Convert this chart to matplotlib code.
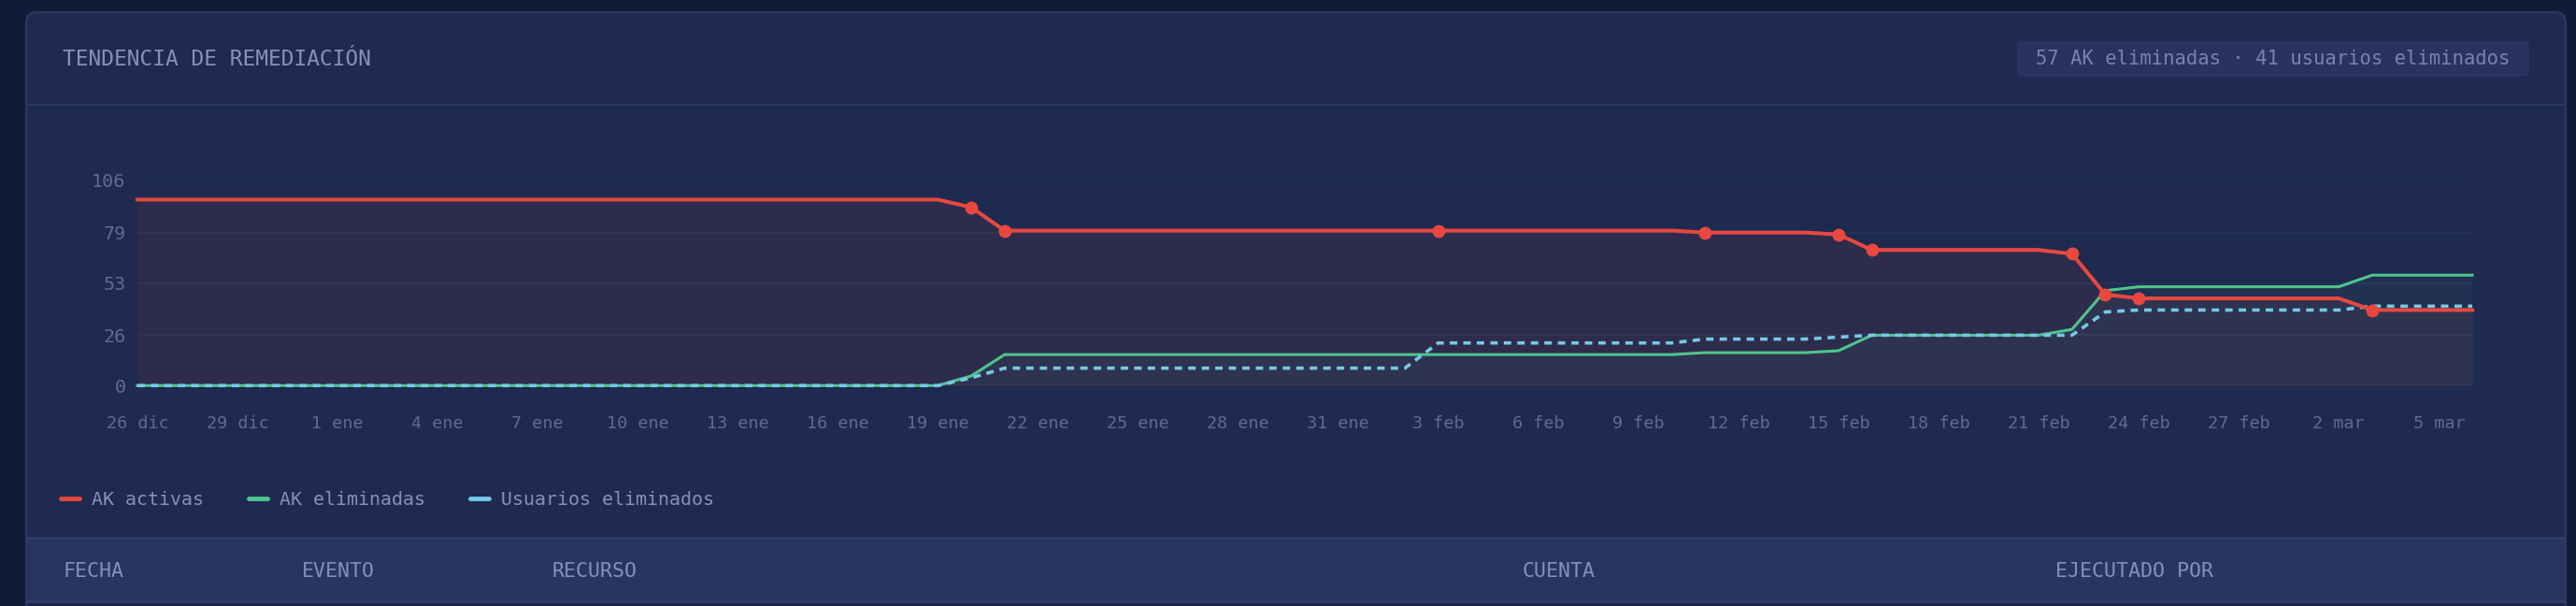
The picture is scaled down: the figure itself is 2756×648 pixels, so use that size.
import matplotlib
matplotlib.use("Agg")
import matplotlib.pyplot as plt
from matplotlib.patches import FancyBboxPatch, Rectangle
from matplotlib.lines import Line2D
import pandas as pd

# --- data (one value per day, 26 dic -> 6 mar) ---
dates = pd.date_range("2025-12-26", "2026-03-06", freq="D")

ak_activas = [
    96, 96, 96, 96, 96, 96, 96, 96, 96, 96,  # 26 dic - 4 ene
    96, 96, 96, 96, 96, 96, 96, 96, 96, 96,  # 5 ene - 14 ene
    96, 96, 96, 96, 96, 92, 80, 80, 80, 80,  # 15 ene - 24 ene
    80, 80, 80, 80, 80, 80, 80, 80, 80, 80,  # 25 ene - 3 feb
    80, 80, 80, 80, 80, 80, 80, 79, 79, 79,  # 4 feb - 13 feb
    79, 78, 70, 70, 70, 70, 70, 70, 68, 47,  # 14 feb - 23 feb
    45, 45, 45, 45, 45, 45, 45, 39, 39, 39,  # 24 feb - 5 mar
    39,                                      # 6 mar
]
ak_eliminadas = [
    0, 0, 0, 0, 0, 0, 0, 0, 0, 0,
    0, 0, 0, 0, 0, 0, 0, 0, 0, 0,
    0, 0, 0, 0, 0, 5, 16, 16, 16, 16,
    16, 16, 16, 16, 16, 16, 16, 16, 16, 16,
    16, 16, 16, 16, 16, 16, 16, 17, 17, 17,
    17, 18, 26, 26, 26, 26, 26, 26, 29, 49,
    51, 51, 51, 51, 51, 51, 51, 57, 57, 57,
    57,
]
usuarios_eliminados = [
    0, 0, 0, 0, 0, 0, 0, 0, 0, 0,
    0, 0, 0, 0, 0, 0, 0, 0, 0, 0,
    0, 0, 0, 0, 0, 4, 9, 9, 9, 9,
    9, 9, 9, 9, 9, 9, 9, 9, 9, 22,
    22, 22, 22, 22, 22, 22, 22, 24, 24, 24,
    24, 25, 26, 26, 26, 26, 26, 26, 26, 38,
    39, 39, 39, 39, 39, 39, 39, 41, 41, 41,
    41,
]

x_tick_labels = ["26 dic", "29 dic", "1 ene", "4 ene", "7 ene", "10 ene",
                 "13 ene", "16 ene", "19 ene", "22 ene", "25 ene", "28 ene",
                 "31 ene", "3 feb", "6 feb", "9 feb", "12 feb", "15 feb",
                 "18 feb", "21 feb", "24 feb", "27 feb", "2 mar", "5 mar"]
y_ticks = [0, 26, 53, 79, 106]

series_labels = ["AK activas", "AK eliminadas", "Usuarios eliminados"]
table_columns = ["FECHA", "EVENTO", "RECURSO", "CUENTA", "EJECUTADO POR"]
summary_text = "57 AK eliminadas · 41 usuarios eliminados"
title_text = "TENDENCIA DE REMEDIACIÓN"

# --- style ---
W, H = 2756, 648
PAGE = "#111a39"
CARD = "#1e2a4f"
BORDER = "#2c3960"
CHIP = "#28345f"
BAND = "#28355f"
RED = "#e8483f"
GREEN = "#4fc48e"
BLUE = "#78c8e6"
GRID = "#27345a"
MUTED = "#5f6b91"
TEXT = "#8791b6"
MONO = "DejaVu Sans Mono"

plt.rcParams["font.family"] = [MONO, "DejaVu Sans"]

fig = plt.figure(figsize=(W / 100, H / 100), dpi=100, facecolor=PAGE)

# background layer in pixel coordinates
bg = fig.add_axes([0, 0, 1, 1], zorder=0)
bg.set_xlim(0, W)
bg.set_ylim(H, 0)
bg.axis("off")

bg.add_patch(FancyBboxPatch((28, 13), 2745 - 28, 720, boxstyle="round,pad=0,rounding_size=12",
                            fc=CARD, ec=BORDER, lw=1.5))
bg.plot([28, 2745], [112, 112], color=BORDER, lw=1.5)
bg.text(67, 63, title_text, color=TEXT, fontsize=16.5, va="center", ha="left")

bg.add_patch(FancyBboxPatch((2158, 44), 548, 38, boxstyle="round,pad=0,rounding_size=6",
                            fc=CHIP, ec="none"))
bg.text(2432, 63, summary_text, color="#7884ab", fontsize=14.8, va="center", ha="center")

# table header band
bg.add_patch(Rectangle((29, 575), 2715, 68, fc=BAND, ec="none"))
bg.add_patch(Rectangle((29, 644), 2715, 10, fc="#1b2446", ec="none"))
bg.plot([29, 2744], [575, 575], color="#303e69", lw=2)
bg.plot([29, 2744], [643, 643], color="#303e69", lw=2)
for col, xpos in zip(table_columns, [67, 323, 590, 1628, 2199]):
    bg.text(xpos, 611, col, color="#8390b8", fontsize=15.6, va="center", ha="left")

# --- chart ---
ax = fig.add_axes([147 / W, 1 - 412.3 / H, (2645 - 147) / W, (412.3 - 192.7) / H], zorder=1)
ax.patch.set_alpha(0)

ax.fill_between(dates, ak_activas, 0, color=RED, alpha=0.08, lw=0)
ax.fill_between(dates, ak_eliminadas, 0, color=GREEN, alpha=0.05, lw=0)

ax.plot(dates, ak_eliminadas, color=GREEN, lw=2.2, clip_on=False, zorder=3,
        solid_joinstyle="round")
ax.plot(dates, usuarios_eliminados, color=BLUE, lw=2.6, ls=(0, (2.2, 1.8)),
        clip_on=False, zorder=4)

# markers on the days where any series changed
changed = [i for i in range(1, len(dates))
           if ak_activas[i] != ak_activas[i - 1]
           or ak_eliminadas[i] != ak_eliminadas[i - 1]
           or usuarios_eliminados[i] != usuarios_eliminados[i - 1]]
ax.plot(dates, ak_activas, color=RED, lw=2.9, clip_on=False, zorder=5,
        marker="o", markersize=10, markevery=changed, markeredgewidth=0,
        solid_joinstyle="round")

ax.set_xlim(dates[0], dates[-1])
ax.set_ylim(0, 106)
ax.set_xticks(dates[::3])
ax.set_xticklabels(x_tick_labels)
ax.set_yticks(y_ticks)
ax.set_yticklabels([str(v) for v in y_ticks])
ax.tick_params(axis="x", length=0, pad=23, labelsize=13.3, colors=MUTED)
ax.tick_params(axis="y", length=0, pad=9, labelsize=14.5, colors=MUTED)
ax.grid(axis="y", color=GRID, lw=1.2)
ax.grid(axis="x", visible=False)
ax.set_axisbelow(True)
for side in ax.spines.values():
    side.set_visible(False)

# legend
handles = [Line2D([], [], color=c, lw=3.5, solid_capstyle="round") for c in (RED, GREEN, BLUE)]
leg = fig.legend(handles, series_labels, loc="center left", ncol=3,
                 bbox_to_anchor=(65 / W, 1 - 534 / H), frameon=False,
                 fontsize=14.4, handlelength=1.0, handletextpad=0.65,
                 columnspacing=2.4, borderpad=0, borderaxespad=0)
for t in leg.get_texts():
    t.set_color(TEXT)

fig.savefig("out.png", dpi=100, facecolor=PAGE)
